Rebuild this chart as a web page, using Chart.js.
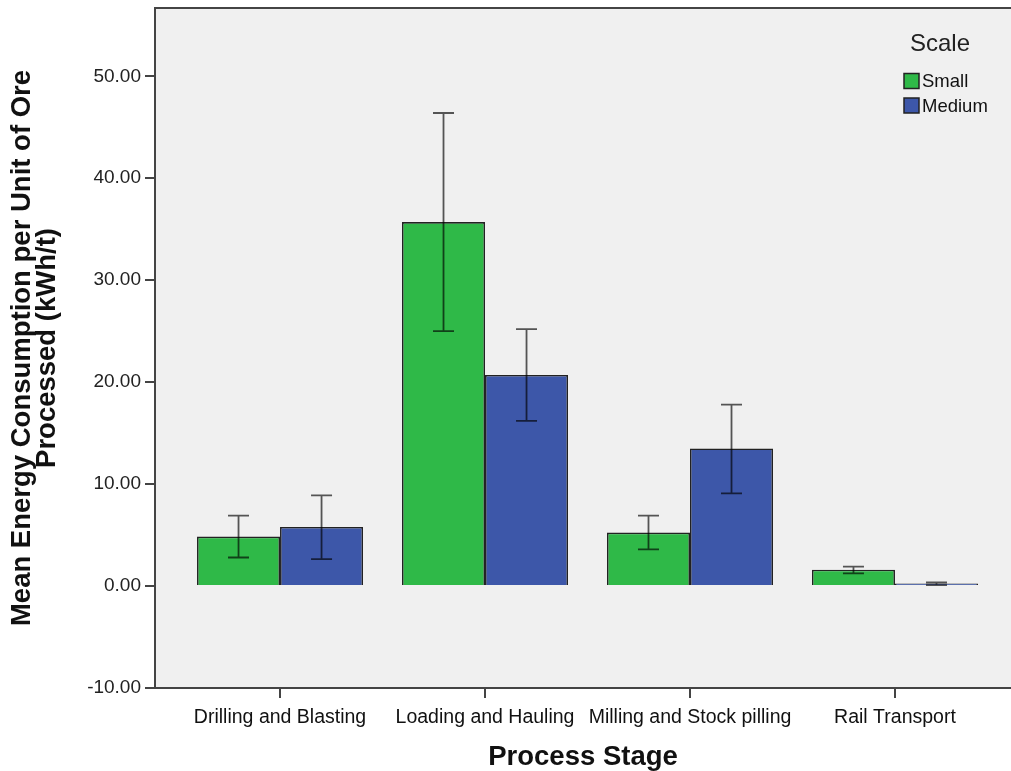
<!DOCTYPE html>
<html>
<head>
<meta charset="utf-8">
<script src="https://cdn.jsdelivr.net/npm/chart.js@4/dist/chart.umd.min.js"></script>
<style>
  body { margin: 0; background: #fff; }
  canvas { display: block; }
</style>
</head>
<body>
<canvas id="energy-chart" width="1011" height="771"></canvas>
<script>
// values (means with error bar ends)
const stages = ['Drilling and Blasting', 'Loading and Hauling', 'Milling and Stock pilling', 'Rail Transport'];
const smallMeans = [4.85, 35.7, 5.25, 1.6];
const smallLow = [2.8, 25.0, 3.6, 1.25];
const smallHigh = [6.9, 46.4, 6.9, 1.9];
const mediumMeans = [5.8, 20.7, 13.5, 0.25];
const mediumLow = [2.65, 16.2, 9.1, 0.1];
const mediumHigh = [8.9, 25.2, 17.8, 0.35];
const yTicks = [-10, 0, 10, 20, 30, 40, 50];

const GREEN = '#2fb948';
const BLUE = '#3d57a9';
const FONT = "'Liberation Sans', Arial, sans-serif";

const toPoints = (vals) => vals.map((v, i) => ({ x: i, y: v }));

// gray plot background + top frame line
const plotFrame = {
    id: 'plotFrame',
    beforeDraw(chart) {
        const { ctx, chartArea: a } = chart;
        ctx.save();
        ctx.fillStyle = '#f0f0f0';
        ctx.fillRect(a.left, a.top, a.right - a.left, a.bottom - a.top);
        ctx.strokeStyle = '#444';
        ctx.lineWidth = 2;
        ctx.beginPath();
        ctx.moveTo(a.left, a.top);
        ctx.lineTo(a.right, a.top);
        ctx.stroke();
        ctx.restore();
    }
};

// error bars drawn through the y scale
const errorBars = {
    id: 'errorBars',
    afterDatasetsDraw(chart) {
        const { ctx } = chart;
        const yScale = chart.scales.y;
        ctx.save();
        ctx.strokeStyle = 'rgba(0,0,0,0.65)';
        ctx.lineWidth = 1.8;
        chart.data.datasets.forEach((ds, di) => {
            const meta = chart.getDatasetMeta(di);
            meta.data.forEach((bar, i) => {
                const top = yScale.getPixelForValue(ds.errHigh[i]);
                const bot = yScale.getPixelForValue(ds.errLow[i]);
                const x = bar.x;
                ctx.beginPath();
                ctx.moveTo(x, top); ctx.lineTo(x, bot);
                ctx.moveTo(x - 10.5, top); ctx.lineTo(x + 10.5, top);
                ctx.moveTo(x - 10.5, bot); ctx.lineTo(x + 10.5, bot);
                ctx.stroke();
            });
        });
        ctx.restore();
    }
};

// legend inside the plot, top right
const scaleLegend = {
    id: 'scaleLegend',
    afterDraw(chart) {
        const { ctx } = chart;
        ctx.save();
        ctx.fillStyle = '#222';
        ctx.font = '24px ' + FONT;
        ctx.textAlign = 'center';
        ctx.textBaseline = 'middle';
        ctx.fillText('Scale', 940, 44);
        ctx.textAlign = 'left';
        ctx.font = '18.5px ' + FONT;
        chart.data.datasets.forEach((ds, i) => {
            const y = 81 + i * 24.5;
            ctx.fillStyle = ds.backgroundColor;
            ctx.fillRect(904, y - 7.5, 15, 15);
            ctx.strokeStyle = '#222';
            ctx.lineWidth = 1.5;
            ctx.strokeRect(904, y - 7.5, 15, 15);
            ctx.fillStyle = '#111';
            ctx.fillText(ds.label, 922, y + 1);
        });
        ctx.restore();
    }
};

new Chart(document.getElementById('energy-chart'), {
    type: 'bar',
    data: {
        datasets: [
            {
                label: 'Small',
                data: toPoints(smallMeans),
                errLow: smallLow,
                errHigh: smallHigh,
                backgroundColor: GREEN,
                borderColor: '#222',
                borderWidth: 1.6
            },
            {
                label: 'Medium',
                data: toPoints(mediumMeans),
                errLow: mediumLow,
                errHigh: mediumHigh,
                backgroundColor: BLUE,
                borderColor: '#222',
                borderWidth: 1.6
            }
        ]
    },
    options: {
        responsive: false,
        animation: false,
        devicePixelRatio: 1,
        categoryPercentage: 0.81,
        barPercentage: 1,
        layout: { padding: { top: 8, right: 0, left: 0, bottom: 0 } },
        plugins: {
            legend: { display: false },
            tooltip: { enabled: false }
        },
        scales: {
            x: {
                type: 'linear',
                offset: false,
                min: -0.61,
                max: 3.566,
                afterFit(scale) { scale.height = 83; },
                afterBuildTicks(scale) {
                    scale.ticks = stages.map((s, i) => ({ value: i }));
                },
                ticks: {
                    autoSkip: false,
                    maxRotation: 0,
                    padding: 8,
                    color: '#111',
                    font: { family: FONT, size: 19.5 },
                    callback: (v) => stages[v]
                },
                grid: { offset: false, drawOnChartArea: false, tickLength: 10, color: '#444', lineWidth: 2 },
                border: { color: '#444', width: 2 },
                title: {
                    display: true,
                    text: 'Process Stage',
                    color: '#111',
                    font: { family: FONT, size: 27.5, weight: 'bold' },
                    padding: { top: 0, bottom: -3 }
                }
            },
            y: {
                min: -10,
                max: 56.7,
                afterFit(scale) {
                    scale.width = 155;
                    scale.paddingTop = 0;
                    scale.paddingBottom = 0;
                },
                afterBuildTicks(scale) {
                    scale.ticks = yTicks.map((v) => ({ value: v }));
                },
                ticks: {
                    padding: 4,
                    color: '#222',
                    font: { family: FONT, size: 19 },
                    callback: (v) => v.toFixed(2)
                },
                grid: { drawOnChartArea: false, tickLength: 10, color: '#444', lineWidth: 2 },
                border: { color: '#444', width: 2 },
                title: {
                    display: true,
                    text: ['Mean Energy Consumption per Unit of Ore', 'Processed (kWh/t)'],
                    color: '#111',
                    font: { family: FONT, size: 27.5, weight: 'bold', lineHeight: 0.9 },
                    padding: { top: 10, bottom: 0 }
                }
            }
        }
    },
    plugins: [plotFrame, errorBars, scaleLegend]
});
</script>
</body>
</html>
